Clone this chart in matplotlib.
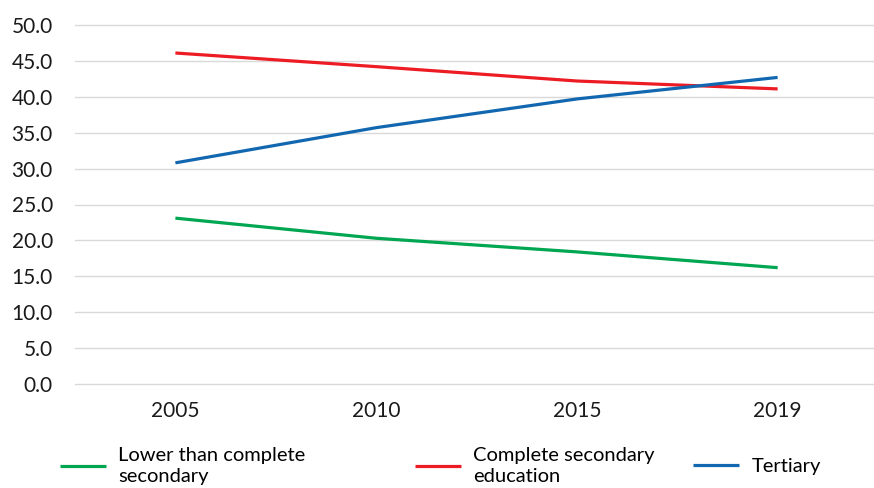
import matplotlib
matplotlib.use("Agg")
import matplotlib.pyplot as plt

years = ["2005", "2010", "2015", "2019"]
lower_secondary = [23.1, 20.3, 18.4, 16.2]
complete_secondary = [46.1, 44.2, 42.2, 41.1]
tertiary = [30.8, 35.7, 39.7, 42.7]
labels = ["Lower than complete\nsecondary", "Complete secondary\neducation", "Tertiary"]
colors = ["#00A651", "#ED1C24", "#1268B0"]
yticks = [0, 5, 10, 15, 20, 25, 30, 35, 40, 45, 50]

plt.rcParams['font.family'] = ['Lato', 'DejaVu Sans']

fig = plt.figure(figsize=(8.74, 4.88), dpi=100)
ax = fig.add_axes([75/874, 1-384/488, (874-75)/874, (384-25)/488])

x = range(len(years))
series = [lower_secondary, complete_secondary, tertiary]
handles = []
for vals, c, lab in zip(series, colors, labels):
    h, = ax.plot(x, vals, color=c, lw=2.3, solid_capstyle='butt', label=lab, zorder=3)
    handles.append(h)

ax.set_ylim(0, 50)
ax.set_xlim(-0.5, 3.48)
ax.set_yticks(yticks)
ax.set_yticklabels([f"{v:.1f}" for v in yticks])
ax.set_xticks(list(x))
ax.set_xticklabels(years)
ax.tick_params(axis='both', length=0, labelsize=15, colors='#1a1a1a')
ax.tick_params(axis='x', pad=12)
ax.tick_params(axis='y', pad=16)
ax.grid(axis='y', color='#d9d9d9', lw=1.0)
for gl in ax.yaxis.get_gridlines():
    gl.set_clip_on(False)
ax.set_axisbelow(True)
for s in ax.spines.values():
    s.set_visible(False)

# legends at three positions
legend_pos = [(60/874, 1-466/488), (415/874, 1-466/488), (693/874, 1-466/488)]
for h, pos in zip(handles, legend_pos):
    lg = fig.legend(handles=[h], labels=[h.get_label()], loc='center left',
                    bbox_to_anchor=pos, frameon=False, fontsize=14.5,
                    handlelength=2.3, handletextpad=0.6, borderpad=0, borderaxespad=0)
    for t in lg.get_texts():
        t.set_linespacing(1.25)

fig.savefig("out.png", dpi=100)
